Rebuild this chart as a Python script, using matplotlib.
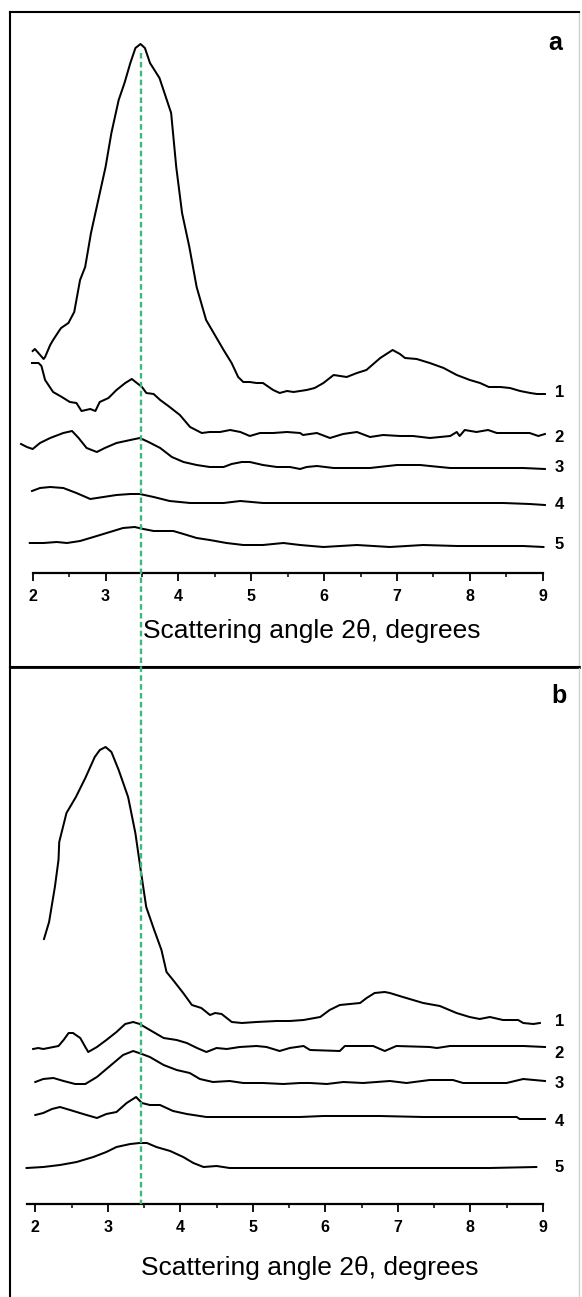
import matplotlib
matplotlib.use("Agg")
import matplotlib.pyplot as plt
import matplotlib.transforms as mtransforms
from matplotlib.lines import Line2D
from matplotlib.ticker import FixedLocator

plt.rcParams['font.family'] = ['Liberation Sans', 'DejaVu Sans']
plt.rcParams['lines.scale_dashes'] = False

# ---------------- data: panel a (2theta in degrees, intensity in a.u.) -------------
a1_x = [2.00, 2.03, 2.15, 2.17, 2.24, 2.28, 2.37, 2.39, 2.49, 2.57, 2.65, 2.72, 2.80, 2.90,
        3.00, 3.08, 3.18, 3.26, 3.34, 3.41, 3.48, 3.54, 3.61, 3.74, 3.90, 3.97, 4.05, 4.15,
        4.25, 4.38, 4.46, 4.62, 4.73, 4.82, 4.89, 4.98, 5.07, 5.16, 5.30, 5.39, 5.49, 5.58,
        5.67, 5.76, 5.87, 5.99, 6.13, 6.31, 6.45, 6.58, 6.77, 6.94, 7.04, 7.11, 7.27, 7.45,
        7.64, 7.82, 8.00, 8.14, 8.26, 8.42, 8.55, 8.69, 8.83, 8.92, 9.03]
a1_y = [222, 224, 214, 216, 228, 233, 243, 245, 250, 261, 293, 306, 340, 373,
        406, 440, 473, 490, 510, 525, 529, 525, 510, 495, 460, 406, 360, 326,
        286, 253, 243, 223, 210, 196, 191, 191, 190, 190, 183, 180, 182, 181,
        182, 183, 185, 190, 198, 196, 200, 203, 215, 223, 219, 215, 214, 210,
        205, 198, 193, 190, 186, 186, 185, 182, 180, 179, 179]

a2_x = [1.99, 2.08, 2.12, 2.17, 2.28, 2.40, 2.51, 2.60, 2.67, 2.79, 2.86, 2.92, 3.04, 3.15,
        3.27, 3.36, 3.43, 3.50, 3.56, 3.66, 3.75, 3.88, 4.02, 4.16, 4.32, 4.43, 4.57, 4.71,
        4.85, 4.98, 5.12, 5.30, 5.49, 5.67, 5.71, 5.90, 6.08, 6.26, 6.45, 6.63, 6.81, 7.04,
        7.22, 7.45, 7.73, 7.82, 7.86, 7.93, 8.09, 8.25, 8.37, 8.64, 8.82, 8.94, 9.03]
a2_y = [210, 210, 207, 193, 181, 176, 171, 170, 162, 164, 162, 171, 175, 183,
        190, 194, 190, 186, 180, 179, 173, 166, 158, 146, 140, 141, 141, 143,
        141, 137, 140, 140, 141, 140, 138, 140, 135, 139, 141, 136, 138, 137,
        137, 135, 137, 141, 137, 143, 141, 143, 140, 140, 140, 137, 139]

a3_x = [1.84, 1.92, 2.00, 2.10, 2.24, 2.42, 2.54, 2.63, 2.74, 2.88, 2.99, 3.15, 3.34, 3.47,
        3.59, 3.75, 3.91, 4.07, 4.25, 4.43, 4.62, 4.73, 4.87, 4.98, 5.16, 5.35, 5.53, 5.67,
        5.76, 5.90, 6.13, 6.45, 6.63, 7.00, 7.32, 7.45, 7.73, 8.28, 8.73, 9.03]
a3_y = [129, 126, 124, 130, 135, 140, 142, 135, 125, 121, 125, 130, 133, 135,
        131, 125, 116, 111, 108, 106, 106, 109, 111, 111, 108, 106, 106, 104,
        106, 107, 105, 105, 105, 108, 108, 107, 105, 105, 105, 104]

a4_x = [1.99, 2.10, 2.24, 2.42, 2.60, 2.79, 2.97, 3.15, 3.34, 3.47, 3.66, 3.88, 4.16, 4.43,
        4.62, 4.85, 5.16, 5.44, 5.99, 6.45, 6.90, 7.45, 7.91, 8.46, 8.82, 9.03]
a4_y = [82, 85, 86, 85, 80, 74, 76, 78, 79, 79, 76, 72, 70, 70,
        70, 72, 70, 70, 70, 70, 70, 70, 70, 70, 69, 68]

a5_x = [1.96, 2.15, 2.33, 2.47, 2.65, 2.88, 3.06, 3.24, 3.40, 3.52, 3.66, 3.93, 4.07, 4.25,
        4.43, 4.66, 4.89, 5.16, 5.44, 5.67, 5.99, 6.45, 6.90, 7.36, 7.82, 8.28, 8.73, 9.01]
a5_y = [30, 30, 31, 30, 32, 37, 41, 45, 46, 44, 42, 42, 39, 35,
        33, 30, 28, 28, 30, 28, 26, 28, 26, 28, 27, 27, 27, 26]

# ---------------- data: panel b -------------
b1_x = [2.12, 2.19, 2.27, 2.32, 2.33, 2.43, 2.56, 2.69, 2.82, 2.89, 2.97, 3.05, 3.15, 3.28,
        3.38, 3.46, 3.53, 3.64, 3.74, 3.81, 3.90, 4.04, 4.16, 4.29, 4.41, 4.48, 4.57, 4.71,
        4.85, 5.05, 5.33, 5.51, 5.70, 5.93, 6.06, 6.20, 6.48, 6.57, 6.68, 6.82, 6.89, 7.07,
        7.35, 7.58, 7.81, 7.99, 8.13, 8.27, 8.45, 8.66, 8.73, 8.87, 8.96]
b1_y = [265, 282, 317, 344, 362, 391, 407, 426, 447, 454, 457, 452, 434, 407,
        371, 331, 297, 274, 254, 232, 224, 211, 199, 196, 189, 191, 190, 182,
        181, 182, 183, 183, 184, 187, 194, 199, 201, 206, 211, 212, 211, 207,
        201, 198, 191, 187, 185, 187, 184, 184, 181, 180, 181]

b2_x = [1.97, 2.04, 2.11, 2.25, 2.32, 2.39, 2.46, 2.52, 2.62, 2.69, 2.73, 2.85, 2.98, 3.12,
        3.24, 3.35, 3.44, 3.58, 3.77, 3.95, 4.09, 4.23, 4.36, 4.50, 4.64, 4.82, 5.05, 5.19,
        5.37, 5.51, 5.70, 5.79, 6.20, 6.27, 6.66, 6.82, 6.98, 7.44, 7.54, 7.72, 8.27, 8.73, 9.03]
b2_y = [155, 156, 155, 157, 158, 164, 171, 171, 166, 157, 152, 157, 164, 172,
        180, 182, 180, 174, 166, 164, 161, 156, 152, 156, 155, 157, 158, 157,
        153, 156, 158, 154, 153, 158, 158, 153, 158, 157, 156, 158, 158, 158, 157]

b3_x = [2.00, 2.11, 2.25, 2.39, 2.55, 2.69, 2.85, 3.03, 3.21, 3.35, 3.47, 3.58, 3.77, 3.95,
        4.13, 4.27, 4.45, 4.68, 4.87, 5.14, 5.42, 5.65, 5.79, 6.02, 6.25, 6.52, 6.89, 7.12,
        7.44, 7.76, 7.90, 8.18, 8.50, 8.73, 9.03]
b3_y = [122, 125, 126, 123, 120, 120, 127, 138, 149, 153, 150, 147, 139, 134,
        131, 125, 122, 123, 121, 121, 120, 121, 121, 120, 122, 121, 123, 121,
        124, 124, 121, 121, 121, 125, 123]

b4_x = [2.00, 2.11, 2.23, 2.34, 2.48, 2.66, 2.85, 2.98, 3.12, 3.26, 3.39, 3.47, 3.58, 3.72,
        3.90, 4.09, 4.36, 4.68, 5.05, 5.65, 5.97, 6.75, 7.35, 8.27, 8.64, 8.68, 9.03]
b4_y = [89, 91, 95, 97, 94, 90, 86, 90, 92, 101, 107, 101, 99, 99,
        93, 90, 87, 87, 87, 87, 88, 88, 87, 87, 87, 85, 85]

b5_x = [1.88, 2.11, 2.34, 2.57, 2.80, 2.98, 3.12, 3.31, 3.44, 3.54, 3.67, 3.86, 4.04, 4.18,
        4.32, 4.50, 4.68, 5.14, 5.65, 6.43, 7.35, 8.27, 8.91]
b5_y = [36, 37, 39, 42, 47, 52, 57, 60, 61, 61, 57, 53, 47, 41,
        37, 38, 36, 36, 36, 36, 36, 36, 37]

curve_labels = ['1', '2', '3', '4', '5']
label_y_a = [180, 135, 105, 68, 28]
label_y_b = [183, 151, 121, 83, 36]
tick_values = [2, 3, 4, 5, 6, 7, 8, 9]
minor_tick_values = [2.5, 3.5, 4.5, 5.5, 6.5, 7.5, 8.5]
xlabel = 'Scattering angle 2θ, degrees'
peak_position = 3.48

# ---------------- layout (pixel geometry) -------------
W, H = 582, 1297
fig = plt.figure(figsize=(W / 100, H / 100), dpi=100)


def rect(l, t, r, b):
    return [l / W, 1 - b / H, (r - l) / W, (b - t) / H]


# outer frames
box_a = fig.add_axes(rect(10, 12, 579, 667))
box_b = fig.add_axes(rect(10, 667, 579, 1310))
for bx in (box_a, box_b):
    bx.set_xticks([])
    bx.set_yticks([])
    bx.patch.set_alpha(0)
    for s in bx.spines.values():
        s.set_linewidth(1.5)
        s.set_color('black')
    bx.spines['right'].set_color('#d0d0d0')
    bx.spines['right'].set_linewidth(1.0)
box_b.spines['bottom'].set_visible(False)
box_a.spines['bottom'].set_linewidth(2.0)

# data axes
ax_a = fig.add_axes(rect(10, 12, 579, 573))
ax_b = fig.add_axes(rect(10, 667, 579, 1204))
ax_a.set_xlim(2 + (10 - 32.7) / 72.86, 2 + (579 - 32.7) / 72.86)
ax_a.set_ylim(0, 561)
ax_b.set_xlim(2 + (10 - 35.3) / 72.5, 2 + (579 - 35.3) / 72.5)
ax_b.set_ylim(0, 537)

series_a = [(a1_x, a1_y), (a2_x, a2_y), (a3_x, a3_y), (a4_x, a4_y), (a5_x, a5_y)]
series_b = [(b1_x, b1_y), (b2_x, b2_y), (b3_x, b3_y), (b4_x, b4_y), (b5_x, b5_y)]

for ax, series, ly, lo, lbx, lby in ((ax_a, series_a, label_y_a, 2.0, 0.530, -0.1159),
                                     (ax_b, series_b, label_y_b, 1.88, 0.527, -0.1322)):
    ax.patch.set_alpha(0)
    for x, y in series:
        ax.plot(x, y, color='black', lw=1.45, solid_joinstyle='round')
    for lab, yy in zip(curve_labels, ly):
        ax.text(9.23, yy, lab, ha='center', va='center', fontsize=12,
                fontweight='bold', color='black')
    for side in ('left', 'right', 'top'):
        ax.spines[side].set_visible(False)
    ax.spines['bottom'].set_linewidth(1.6)
    ax.spines['bottom'].set_bounds(lo, 9)
    ax.set_yticks([])
    ax.set_xticks(tick_values)
    ax.xaxis.set_minor_locator(FixedLocator(minor_tick_values))
    ax.tick_params(axis='x', which='major', direction='out', length=5.5, width=1.3,
                   pad=6.0, labelsize=11.5)
    ax.tick_params(axis='x', which='minor', direction='out', length=3, width=1.1)
    for t in ax.get_xticklabels():
        t.set_fontweight('bold')
    ax.set_xlabel(xlabel, fontsize=19)
    ax.xaxis.label.set_va('baseline')
    ax.xaxis.set_label_coords(lbx, lby)

# panel letters
fig.text(555.5 / W, 1 - 50.5 / H, 'a', ha='center', va='baseline', fontsize=18, fontweight='bold')
fig.text(558.5 / W, 1 - 703 / H, 'b', ha='center', va='baseline', fontsize=18, fontweight='bold')

# green dashed reference line spanning both panels
trans = mtransforms.blended_transform_factory(ax_a.transData, fig.transFigure)
fig.add_artist(Line2D([peak_position, peak_position], [1 - 53 / H, 1 - 1204 / H],
                      transform=trans, color='#3dba78', lw=1.7,
                      linestyle=(0, (4.0, 2.4)), zorder=5))

fig.savefig('out.png', dpi=100)
